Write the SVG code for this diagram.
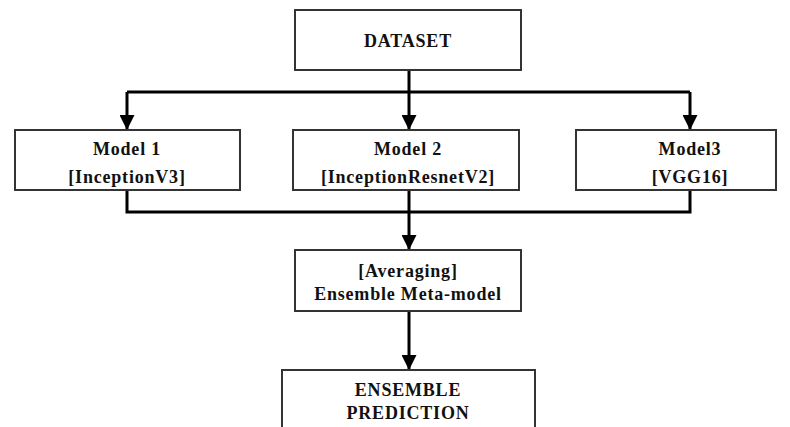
<svg xmlns="http://www.w3.org/2000/svg" width="790" height="427" viewBox="0 0 790 427">
<defs>
<style>
.box{fill:#fff;stroke:#333;stroke-width:2}
.t{font-family:"Liberation Serif","Times New Roman",serif;font-weight:bold;font-size:18px;fill:#111;text-anchor:middle;letter-spacing:0.8px}
.c{fill:none;stroke:#000;stroke-width:3}
</style>
<marker id="ah" viewBox="0 0 10 10" refX="10" refY="5" markerWidth="5" markerHeight="5" markerUnits="strokeWidth" orient="auto">
<path d="M0,0 L10,5 L0,10 z" fill="#000"/>
</marker>
</defs>
<rect width="790" height="427" fill="#fff"/>
<g id="connectors">
<path class="c" d="M409,70 V92"/>
<path class="c" d="M127,92 H690"/>
<path class="c" d="M127,92 V130" marker-end="url(#ah)"/>
<path class="c" d="M409,92 V130" marker-end="url(#ah)"/>
<path class="c" d="M690,92 V130" marker-end="url(#ah)"/>
<path class="c" d="M127,190 V212 H690 V190"/>
<path class="c" d="M409,190 V250" marker-end="url(#ah)"/>
<path class="c" d="M409,311 V370" marker-end="url(#ah)"/>
</g>
<g id="dataset">
<rect class="box" x="295" y="10" width="226" height="60"/>
<text class="t" x="408" y="47">DATASET</text>
</g>
<g id="model1">
<rect class="box" x="15" y="130" width="225" height="60"/>
<text class="t" x="127" y="155">Model 1</text>
<text class="t" x="127" y="183">[InceptionV3]</text>
</g>
<g id="model2">
<rect class="box" x="293" y="130" width="226" height="60"/>
<text class="t" x="408" y="155">Model 2</text>
<text class="t" x="408" y="183">[InceptionResnetV2]</text>
</g>
<g id="model3">
<rect class="box" x="576" y="130" width="200" height="60"/>
<text class="t" x="690" y="155">Model3</text>
<text class="t" x="690" y="183">[VGG16]</text>
</g>
<g id="averaging">
<rect class="box" x="295" y="250" width="226" height="61"/>
<text class="t" x="408" y="277">[Averaging]</text>
<text class="t" x="408" y="300">Ensemble Meta-model</text>
</g>
<g id="prediction">
<rect class="box" x="282" y="370" width="253" height="70"/>
<text class="t" x="408" y="396">ENSEMBLE</text>
<text class="t" x="408" y="419">PREDICTION</text>
</g>
</svg>
